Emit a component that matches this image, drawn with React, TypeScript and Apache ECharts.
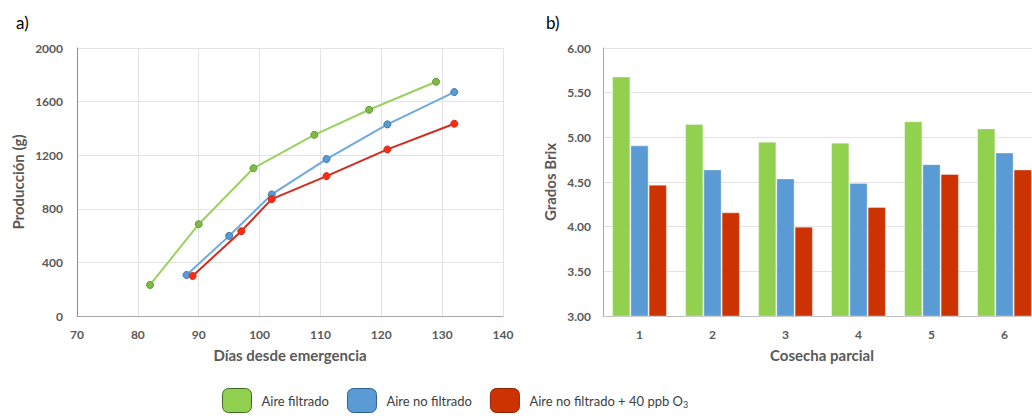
import React, { useEffect, useRef } from "react";
import * as echarts from "echarts";

const seriesNames = ["Aire filtrado", "Aire no filtrado", "Aire no filtrado + 40 ppb O3"];

// Panel a) days since emergence and production (g)
const greenDays = [82, 90, 99, 109, 118, 129];
const greenProd = [232, 685, 1103, 1352, 1539, 1748];
const blueDays = [88, 95, 102, 111, 121, 132];
const blueProd = [306, 598, 907, 1171, 1430, 1671];
const redDays = [89, 97, 102, 111, 121, 132];
const redProd = [299, 633, 872, 1044, 1243, 1435];

// Panel b) partial harvest and Brix
const harvestCategories = ["1", "2", "3", "4", "5", "6"];
const brixGreen = [5.68, 5.15, 4.95, 4.94, 5.18, 5.1];
const brixBlue = [4.91, 4.64, 4.54, 4.49, 4.7, 4.83];
const brixRed = [4.47, 4.16, 4.0, 4.22, 4.59, 4.64];

const FONT = "Lato, 'Open Sans', sans-serif";
const LABEL_COLOR = "#595959";

const barGreen = "#92D050";
const barBlue = "#5B9BD5";
const barRed = "#CC3300";

export default function App() {
  const ref = useRef<HTMLDivElement>(null);
  useEffect(() => {
    if (!ref.current) return;
    const chart = echarts.init(ref.current, undefined, { renderer: "svg" });
    const pair = (xs: number[], ys: number[]) => xs.map((x, i) => [x, ys[i]]);
    const axisLabel = { color: LABEL_COLOR, fontWeight: "bold", fontSize: 12, fontFamily: FONT };
    const nameStyle = { color: LABEL_COLOR, fontWeight: "bold", fontSize: 15, fontFamily: FONT };
    const lineSeries = (name: string, data: number[][], lineColor: string, fill: string, border: string) => ({
      type: "line",
      name,
      xAxisIndex: 0,
      yAxisIndex: 0,
      data,
      symbol: "circle",
      symbolSize: 7,
      lineStyle: { color: lineColor, width: 2 },
      itemStyle: { color: fill, borderColor: border, borderWidth: 1 },
      z: 3,
    });
    const barSeries = (name: string, data: number[], color: string) => ({
      type: "bar",
      name,
      xAxisIndex: 1,
      yAxisIndex: 1,
      data,
      barGap: "0%",
      barCategoryGap: "25%",
      itemStyle: { color, borderColor: "rgba(255,255,255,0.35)", borderWidth: 1 },
    });
    chart.setOption({
      animation: false,
      backgroundColor: "#ffffff",
      title: [
        { text: "a)", left: 11, top: 9, textStyle: { fontSize: 17, fontWeight: "normal", color: "#000", fontFamily: FONT } },
        { text: "b)", left: 541, top: 9, textStyle: { fontSize: 17, fontWeight: "normal", color: "#000", fontFamily: FONT } },
      ],
      legend: {
        bottom: 1,
        left: 217,
        itemWidth: 29,
        itemHeight: 24,
        itemGap: 18,
        icon: "roundRect",
        selectedMode: false,
        data: [
          { name: seriesNames[0], itemStyle: { color: barGreen, borderColor: "#3B6E22", borderWidth: 1 } },
          { name: seriesNames[1], itemStyle: { color: barBlue, borderColor: "#2E5F8E", borderWidth: 1 } },
          { name: seriesNames[2], itemStyle: { color: barRed, borderColor: "#8E2200", borderWidth: 1 } },
        ],
        formatter: (n: string) => (n === seriesNames[2] ? "Aire no filtrado + 40 ppb O{sub|3}" : n),
        textStyle: {
          fontSize: 13,
          color: "#404040",
          fontFamily: FONT,
          padding: [0, 0, 0, 5],
          rich: { sub: { fontSize: 9, verticalAlign: "bottom", padding: [7, 0, 0, 0], color: "#404040", fontFamily: FONT } },
        },
      },
      grid: [
        { left: 77, top: 48, width: 426, height: 268 },
        { left: 603, top: 48, width: 438, height: 268 },
      ],
      xAxis: [
        {
          type: "value",
          gridIndex: 0,
          min: 70,
          max: 140,
          interval: 10,
          name: "Días desde emergencia",
          nameLocation: "middle",
          nameGap: 31,
          nameTextStyle: nameStyle,
          axisLine: { show: true, lineStyle: { color: "#A6A6A6", width: 1 } },
          axisTick: { show: false },
          axisLabel: { ...axisLabel, margin: 12 },
          splitLine: { show: true, lineStyle: { color: "#E3E3E3", width: 1 } },
        },
        {
          type: "category",
          gridIndex: 1,
          data: harvestCategories,
          name: "Cosecha parcial",
          nameLocation: "middle",
          nameGap: 31,
          nameTextStyle: nameStyle,
          axisLine: { show: true, lineStyle: { color: "#BFBFBF", width: 1 } },
          axisTick: { show: false },
          axisLabel: { ...axisLabel, margin: 12 },
          splitLine: { show: false },
        },
      ],
      yAxis: [
        {
          type: "value",
          gridIndex: 0,
          min: 0,
          max: 2000,
          interval: 400,
          name: "Producción (g)",
          nameLocation: "middle",
          nameGap: 52,
          nameTextStyle: nameStyle,
          axisLine: { show: true, lineStyle: { color: "#8C8C8C", width: 1 } },
          axisTick: { show: false },
          axisLabel: { ...axisLabel, margin: 14, formatter: (v: number) => String(v) },
          splitLine: { show: true, lineStyle: { color: "#E3E3E3", width: 1 } },
        },
        {
          type: "value",
          gridIndex: 1,
          min: 3,
          max: 6,
          interval: 0.5,
          name: "Grados Brix",
          nameLocation: "middle",
          nameGap: 46,
          nameTextStyle: nameStyle,
          axisLine: { show: true, lineStyle: { color: "#A6A6A6", width: 1 } },
          axisTick: { show: false },
          axisLabel: { ...axisLabel, margin: 12, formatter: (v: number) => v.toFixed(2) },
          splitLine: { show: true, lineStyle: { color: "#E3E3E3", width: 1 } },
        },
      ],
      series: [
        lineSeries(seriesNames[0], pair(greenDays, greenProd), "#9BD160", "#7DBA47", "#5E9A35"),
        lineSeries(seriesNames[1], pair(blueDays, blueProd), "#6FAADD", "#5B9BD5", "#3F76AB"),
        lineSeries(seriesNames[2], pair(redDays, redProd), "#D42A1E", "#FF2A10", "#D42A1E"),
        barSeries(seriesNames[0], brixGreen, barGreen),
        barSeries(seriesNames[1], brixBlue, barBlue),
        barSeries(seriesNames[2], brixRed, barRed),
      ],
    });
    return () => chart.dispose();
  }, []);
  return (
    <div
      ref={ref}
      style={{ position: "fixed", left: 0, top: 0, width: 1042, height: 419, background: "#fff" }}
    />
  );
}
